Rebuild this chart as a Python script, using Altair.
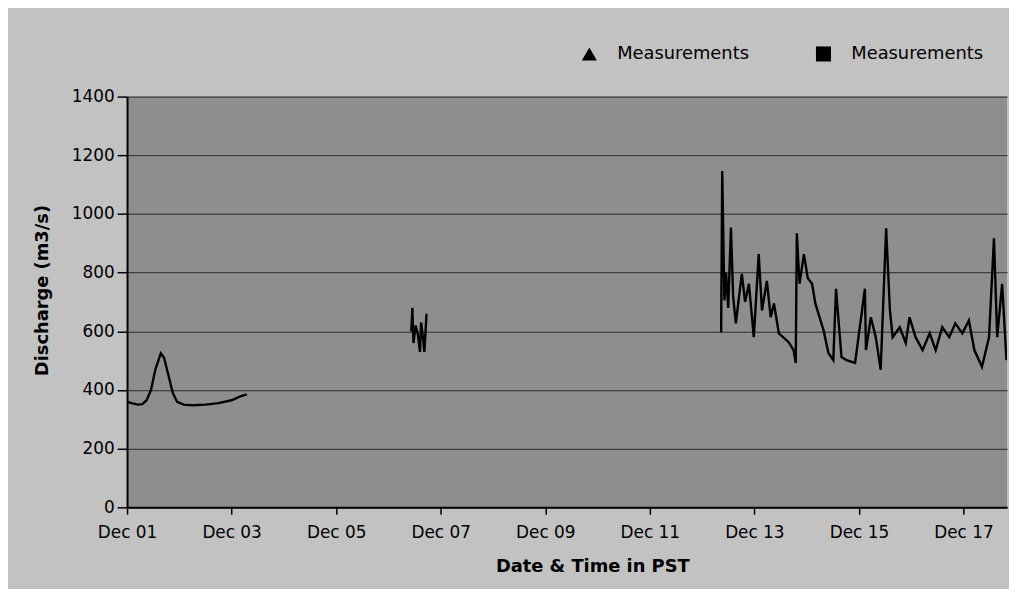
import altair as alt
import pandas as pd

# ---- data ----
seg1_time = ["2008-12-01T00:00", "2008-12-01T02:00", "2008-12-01T05:00", "2008-12-01T07:00",
             "2008-12-01T09:00", "2008-12-01T11:00", "2008-12-01T13:00", "2008-12-01T15:30",
             "2008-12-01T17:00", "2008-12-01T19:00", "2008-12-01T21:00", "2008-12-01T23:00",
             "2008-12-02T02:00", "2008-12-02T06:00", "2008-12-02T12:00", "2008-12-02T18:00",
             "2008-12-03T00:00", "2008-12-03T04:00", "2008-12-03T07:00"]
seg1_value = [360, 355, 350, 352, 365, 400, 470, 525, 510, 450, 390, 360,
              350, 348, 350, 355, 365, 378, 385]

seg2_time = ["2008-12-06T10:30", "2008-12-06T11:00", "2008-12-06T11:30", "2008-12-06T12:30",
             "2008-12-06T13:30", "2008-12-06T14:30", "2008-12-06T15:00", "2008-12-06T16:00",
             "2008-12-06T16:30", "2008-12-06T17:30"]
seg2_value = [600, 680, 560, 620, 590, 530, 630, 570, 530, 660]

seg3_time = ["2008-12-12T08:45", "2008-12-12T09:15", "2008-12-12T10:15", "2008-12-12T11:00",
             "2008-12-12T12:00", "2008-12-12T13:15", "2008-12-12T14:15", "2008-12-12T15:30",
             "2008-12-12T17:00", "2008-12-12T18:15", "2008-12-12T19:45", "2008-12-12T21:30",
             "2008-12-12T23:45", "2008-12-13T02:00", "2008-12-13T03:30", "2008-12-13T05:45",
             "2008-12-13T07:30", "2008-12-13T09:00", "2008-12-13T11:15", "2008-12-13T15:45",
             "2008-12-13T18:00", "2008-12-13T19:00", "2008-12-13T19:30", "2008-12-13T20:45",
             "2008-12-13T22:45", "2008-12-14T00:30", "2008-12-14T02:30", "2008-12-14T04:00",
             "2008-12-14T07:45", "2008-12-14T10:00", "2008-12-14T12:15", "2008-12-14T13:30",
             "2008-12-14T16:00", "2008-12-14T18:15", "2008-12-14T22:15", "2008-12-15T02:45",
             "2008-12-15T03:15", "2008-12-15T05:30", "2008-12-15T07:45", "2008-12-15T10:00",
             "2008-12-15T12:30", "2008-12-15T14:15", "2008-12-15T15:30", "2008-12-15T18:45",
             "2008-12-15T21:30", "2008-12-15T23:15", "2008-12-16T02:00", "2008-12-16T05:15",
             "2008-12-16T08:30", "2008-12-16T11:15", "2008-12-16T14:15", "2008-12-16T17:30",
             "2008-12-16T20:15", "2008-12-16T23:30", "2008-12-17T02:30", "2008-12-17T05:00",
             "2008-12-17T08:30", "2008-12-17T11:45", "2008-12-17T14:00", "2008-12-17T15:30",
             "2008-12-17T17:45", "2008-12-17T19:45"]
seg3_value = [597, 1146, 705, 800, 680, 954, 720, 627, 720, 796, 700, 762,
              580, 863, 671, 772, 648, 695, 593, 563, 536, 492, 934, 762,
              863, 782, 762, 695, 604, 526, 502, 745, 512, 502, 492, 745,
              536, 648, 580, 469, 951, 671, 580, 614, 560, 648, 580, 536,
              593, 536, 614, 580, 627, 593, 637, 536, 479, 580, 917, 580,
              762, 502]

legend_keys = ["Measurements (triangle)", "Measurements (square)"]
y_ticks = [0, 200, 400, 600, 800, 1000, 1200, 1400]
x_tick_days = [1, 3, 5, 7, 9, 11, 13, 15, 17]

# ---- build tables ----
frames = []
for name, t, v in [("s1", seg1_time, seg1_value), ("s2", seg2_time, seg2_value),
                   ("s3", seg3_time, seg3_value)]:
    frames.append(pd.DataFrame({"time": t, "discharge": v, "segment": name}))
line_df = pd.concat(frames, ignore_index=True)

legend_df = pd.DataFrame({"time": [None, None], "discharge": [None, None], "kind": legend_keys})

FONT = "DejaVu Sans"

x_scale = alt.Scale(domain=[alt.DateTime(year=2008, month=12, date=1),
                            alt.DateTime(year=2008, month=12, date=17, hours=20)])
y_scale = alt.Scale(domain=[0, 1400])

x_axis = alt.Axis(
    title="Date & Time in PST", format="%b %d",
    values=[alt.DateTime(year=2008, month=12, date=d) for d in x_tick_days],
    grid=False, tickSize=7, tickColor="black", tickWidth=1.5,
    domainColor="black", domainWidth=2,
    labelFont=FONT, labelFontSize=17, labelColor="black", labelPadding=10,
    titleFont=FONT, titleFontSize=18, titleFontWeight="bold", titleColor="black",
    titleX=469, titleY=60, titleAlign="center", titleBaseline="middle",
    labelFlush=False,
)
y_axis = alt.Axis(
    title="Discharge (m3/s)", values=y_ticks, format="d",
    grid=True, gridColor="#2a2a2a", gridWidth=1,
    tickSize=10, tickColor="black", tickWidth=1.5,
    domainColor="black", domainWidth=2,
    labelFont=FONT, labelFontSize=17, labelColor="black", labelPadding=3,
    titleFont=FONT, titleFontSize=18, titleFontWeight="bold", titleColor="black",
    titleX=-85, titleY=195, titleAlign="center", titleBaseline="middle", titleAngle=-90,
)

line = alt.Chart(line_df).mark_line(color="black", strokeWidth=2.4, clip=True).encode(
    x=alt.X("time:T", scale=x_scale, axis=x_axis),
    y=alt.Y("discharge:Q", scale=y_scale, axis=y_axis),
    detail="segment:N",
)

legend_pts = alt.Chart(legend_df).mark_point(filled=True, color="black", opacity=1).encode(
    x=alt.X("time:T", scale=x_scale),
    y=alt.Y("discharge:Q", scale=y_scale),
    shape=alt.Shape(
        "kind:N",
        scale=alt.Scale(domain=legend_keys, range=["triangle-up", "square"]),
        legend=alt.Legend(
            title=None, orient="none", direction="horizontal",
            legendX=457, legendY=-52, padding=0,
            labelExpr="'Measurements'",
            labelFont=FONT, labelFontSize=18, labelColor="black",
            symbolSize=230, symbolFillColor="black", symbolStrokeColor="black",
            symbolStrokeWidth=0, labelOffset=19, columnPadding=66,
        ),
    ),
)

chart = alt.layer(line, legend_pts).properties(
    width=887, height=414,
    autosize=alt.AutoSizeParams(type="none"),
    padding={"left": 120, "top": 87, "right": 2, "bottom": 80},
    background="#c2c2c2",
).configure_view(fill="#8e8e8e", stroke=None)

chart.save("out.html", embed_options={"renderer": "svg", "actions": False})
